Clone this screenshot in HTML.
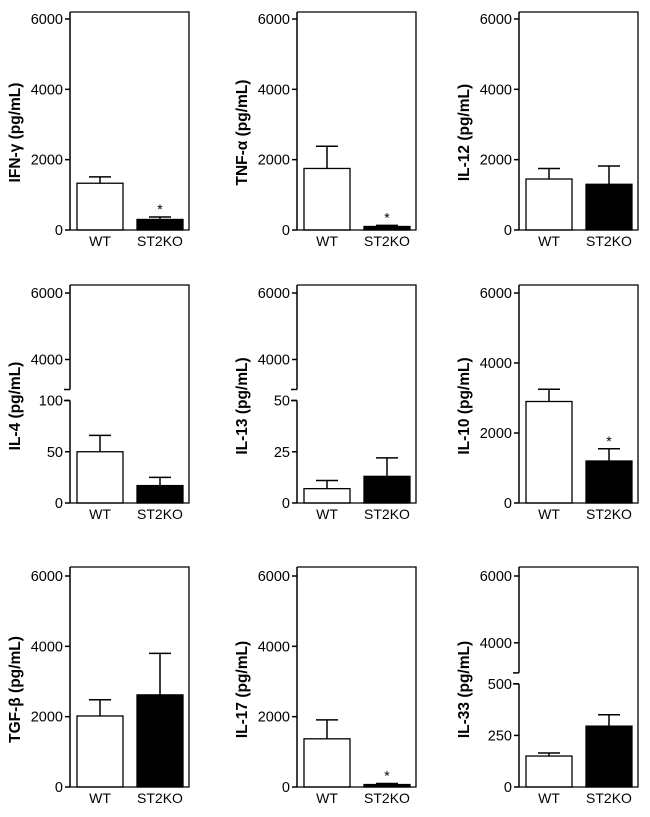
<!DOCTYPE html>
<html><head><meta charset="utf-8">
<style>
html,body{margin:0;padding:0;background:#fff;}
svg{display:block;}
text{font-family:"Liberation Sans",Arial,sans-serif;fill:#000;}
</style></head>
<body>
<svg id="chart" width="650" height="817" viewBox="0 0 650 817" xmlns="http://www.w3.org/2000/svg"></svg>
<script>
const panelTitles = ["IFN-γ (pg/mL)","TNF-α (pg/mL)","IL-12 (pg/mL)","IL-4 (pg/mL)","IL-13 (pg/mL)","IL-10 (pg/mL)","TGF-β (pg/mL)","IL-17 (pg/mL)","IL-33 (pg/mL)"];
const categories = ["WT","ST2KO"];
const wtMeans = [1330,1750,1450,50,7,2900,2020,1370,150];
const wtErr   = [1510,2380,1750,66,11,3250,2480,1910,165];
const koMeans = [300,100,1300,17,13,1200,2620,70,295];
const koErr   = [370,130,1820,25,22,1550,3800,100,350];
const significant = [true,true,false,false,false,true,false,true,false];
const lowerMax = [null,null,null,100,50,null,null,null,500];
const lowerTicks = [null,null,null,[0,50,100],[0,25,50],null,null,null,[0,250,500]];
const fullTicks = [0,2000,4000,6000];
const upperTicks = [4000,6000];

const svg = document.getElementById('chart');
const NS = 'http://www.w3.org/2000/svg';
function mk(tag, attrs, parent){
  const e = document.createElementNS(NS, tag);
  for (const k in attrs) e.setAttribute(k, attrs[k]);
  (parent||svg).appendChild(e);
  return e;
}
const colX = [70,297,519];
const rowTop = [12,285,567];
const rowY6000 = [19,293,576];
const rowY0 = [230,503,787];
const boxW = 119;

for (let i=0;i<9;i++){
  const c=i%3, r=Math.floor(i/3);
  const ax=colX[c], top=rowTop[r], y6=rowY6000[r], y0=rowY0[r];
  const g = mk('g',{});
  
  
  let yScale, broken = lowerMax[i]!==null;
  let breakTop, lowTop;
  if (!broken){
    yScale = v => y0 - (y0-y6)*v/6000;
  } else {
    const per = (y0-y6)/6000*0.95;
    const y4 = y6 + 2000*per;
    breakTop = y4 + 30;
    lowTop = breakTop + 11;
    const lm = lowerMax[i];
    yScale = v => v<=lm ? y0 - (y0-lowTop)*v/lm : y6 + (6000-v)*per;
  }
  const means=[wtMeans[i],koMeans[i]], errs=[wtErr[i],koErr[i]];
  for (let b=0;b<2;b++){
    const bx = ax + 7 + b*60, bw = 46;
    const yt = yScale(means[b]);
    const rect = mk('rect',{x:bx,y:yt,width:bw,height:y0-yt,fill:b?'#000':'#fff',stroke:'#000','stroke-width':1.3},g);
    
    
    const cx = bx+bw/2, ye = yScale(errs[b]);
    const eb = mk('path',{d:`M${cx},${yt}V${ye}M${cx-11},${ye}H${cx+11}`,stroke:'#000','stroke-width':1.5,fill:'none'},g);
    
    
    if (b===1 && significant[i]){
      const st = mk('text',{x:cx,y:ye-3,'text-anchor':'middle','font-size':14},g);
      st.textContent='*';
      
      
    }
    const cl = mk('text',{x:cx,y:y0+16,'text-anchor':'middle','font-size':14},g);
    cl.textContent=categories[b];
    
    
  }
  const fr = mk('path',{d:`M${ax},${top}H${ax+boxW}V${y0}H${ax}`,stroke:'#000','stroke-width':1.3,fill:'none'},g);
  
  
  let axd = broken ? `M${ax},${top}V${breakTop}M${ax-6},${breakTop}H${ax}M${ax-6},${lowTop}H${ax}M${ax},${lowTop}V${y0}` : `M${ax},${top}V${y0}`;
  const ya = mk('path',{d:axd,stroke:'#000','stroke-width':1.5,fill:'none'},g);
  
  
  const ticks = broken ? lowerTicks[i].concat(upperTicks) : fullTicks;
  ticks.forEach(t=>{
    const yy = yScale(t);
    mk('path',{d:`M${ax-5},${yy}H${ax}`,stroke:'#000','stroke-width':1.5},g);
    const tl = mk('text',{x:ax-7,y:yy+5,'text-anchor':'end','font-size':14.5},g);
    tl.textContent=String(t);
    
    
  });
  const tx = ax-50, ty = (y6+y0)/2+8;
  const tt = mk('text',{x:tx,y:ty,'text-anchor':'middle','font-size':15.5,'font-weight':'bold',transform:`rotate(-90 ${tx} ${ty})`},g);
  tt.textContent=panelTitles[i];
  
  
}
</script>
</body></html>
